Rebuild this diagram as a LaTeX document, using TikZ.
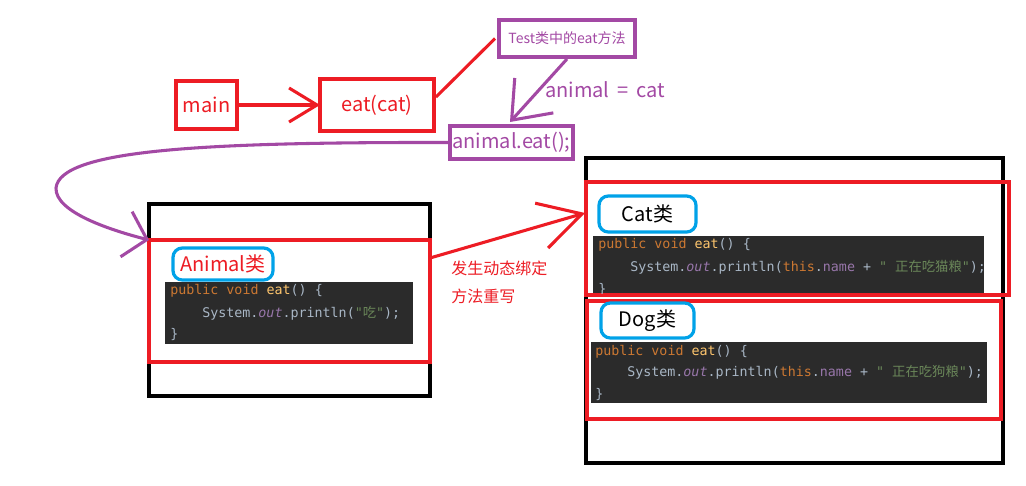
\documentclass[tikz,border=0pt]{standalone}
\usepackage{fontspec}
\setmainfont{Noto Sans CJK SC}
\setmonofont{DejaVu Sans Mono}
\newfontfamily\cjk{Noto Sans CJK SC}
\usetikzlibrary{arrows.meta,calc}
\definecolor{pred}{HTML}{ED1C24}
\definecolor{ppurple}{HTML}{A349A4}
\definecolor{pblue}{HTML}{00A2E8}
\definecolor{codebg}{HTML}{2B2B2B}
\definecolor{ckw}{HTML}{CC7832}
\definecolor{cfn}{HTML}{FFC66D}
\definecolor{cpl}{HTML}{A9B7C6}
\definecolor{cfld}{HTML}{9876AA}
\definecolor{cstr}{HTML}{6A8759}
\newcommand\ckw[1]{\textcolor{ckw}{#1}}
\newcommand\cfn[1]{\textcolor{cfn}{#1}}
\newcommand\cpl[1]{\textcolor{cpl}{#1}}
\newcommand\cfld[1]{\textcolor{cfld}{#1}}
\newcommand\cstr[1]{\textcolor{cstr}{#1}}
\begin{document}
\begin{tikzpicture}[x=0.75pt,y=-0.75pt,
  box/.style={draw, line width=2.4pt, inner sep=0pt, outer sep=0pt},
  redbox/.style={box, draw=pred},
  purplebox/.style={box, draw=ppurple},
  blackbox/.style={box, draw=black},
  bluebox/.style={box, draw=pblue, rounded corners=7pt},
  codebox/.style={fill=codebg, inner sep=0pt, outer sep=0pt},
  lbl/.style={font=\fontsize{15}{18}\selectfont},
  code/.style={anchor=base west, inner sep=0pt, font=\ttfamily\fontsize{10}{12}\selectfont, text=cpl},
  redline/.style={draw=pred, line width=2.3pt},
  purpleline/.style={draw=ppurple, line width=2.3pt}]
\useasboundingbox (0,0) rectangle (1026,486);
\fill[white] (0,0) rectangle (1026,486);

% top row
\node[redbox, minimum width=45.75pt, minimum height=36pt, lbl, text=pred] (main) at (206.5,105) {main};
\node[redbox, minimum width=85.5pt, minimum height=39pt, lbl, text=pred] (eat) at (377,105) {eat(cat)};
\node[purplebox, minimum width=102pt, minimum height=27.75pt, text=ppurple, font=\fontsize{10.5}{12}\selectfont] (test) at (567,38.5) {Test类中的eat方法};
\node[purplebox, minimum width=92.25pt, minimum height=24.75pt, lbl, text=ppurple] (aeat) at (511.5,142.5) {animal.eat();};
\node[lbl, text=ppurple, inner sep=0pt] (assign) at (605,90) {animal\ \,=\ \,cat};

% Animal class
\node[blackbox, minimum width=210.75pt, minimum height=144pt] (animalouter) at (289.5,300) {};
\node[redbox, minimum width=210.75pt, minimum height=91.5pt] (animalred) at (289.5,301) {};
\node[bluebox, minimum width=75pt, minimum height=24pt, lbl, text=pred] (animallabel) at (223,264) {Animal类};
\node[codebox, minimum width=186pt, minimum height=46.5pt] (animalcode) at (289,313) {};
\node[code] (a1) at (170,294) {\ckw{public\ void\ }\cfn{eat}\cpl{()\ \{}};
\node[code] (a2) at (202,317) {\cpl{System.}\cfld{\itshape out}\cpl{.println(}\cstr{"{\cjk 吃}"}\cpl{);}};
\node[code] (a3) at (170,338) {\cpl{\}}};

% right side
\node[blackbox, minimum width=312.75pt, minimum height=228.75pt] (rightouter) at (794.5,310.5) {};
\node[redbox, minimum width=317.25pt, minimum height=84.75pt] (catred) at (797.5,238.5) {};
\node[bluebox, minimum width=72.75pt, minimum height=27pt, lbl, text=black] (catlabel) at (647.5,214) {Cat类};
\node[codebox, minimum width=293.25pt, minimum height=42.75pt] (catcode) at (788.5,264.5) {};
\begin{scope}
\clip (catcode.south west) rectangle (catcode.north east);
\node[code] (c1) at (598,248) {\ckw{public\ void\ }\cfn{eat}\cpl{()\ \{}};
\node[code] (c2) at (630,271) {\cpl{System.}\cfld{\itshape out}\cpl{.println(}\ckw{this}\cpl{.}\cfld{name}\cpl{\ +\ }\cstr{"\ {\cjk 正在吃猫粮}"}\cpl{);}};
\node[code] (c3) at (598,293) {\cpl{\}}};
\end{scope}

\node[redbox, minimum width=310.5pt, minimum height=88.5pt] (dogred) at (794,360) {};
\node[bluebox, minimum width=69.75pt, minimum height=26.25pt, lbl, text=black] (doglabel) at (647.5,320.5) {Dog类};
\node[codebox, minimum width=297pt, minimum height=45.75pt] (dogcode) at (789,372.5) {};
\node[code] (d1) at (595,355) {\ckw{public\ void\ }\cfn{eat}\cpl{()\ \{}};
\node[code] (d2) at (627,376) {\cpl{System.}\cfld{\itshape out}\cpl{.println(}\ckw{this}\cpl{.}\cfld{name}\cpl{\ +\ }\cstr{"\ {\cjk 正在吃狗粮}"}\cpl{);}};
\node[code] (d3) at (595,398) {\cpl{\}}};

\node[anchor=west, text=pred, font=\fontsize{12}{21}\selectfont, align=left, inner sep=0pt] (bind) at (451,282) {发生动态绑定\\方法重写};

% connectors
\draw[redline, -{Straight Barb[length=21pt,width=25.5pt]}] (main.east) -- (eat.west);
\draw[redline] ($(eat.east)+(2,-8)$) -- ($(test.west)+(-4,0)$);
\draw[purpleline, -{Straight Barb[length=25pt,width=39pt]}] ($(test.south)+(0,2)$) -- ($(aeat.north)+(-1.5,-4)$);
\coordinate (loop) at (56,188);
\draw[purpleline, -{Straight Barb[length=16pt,width=35pt]}] (aeat.west) .. controls (200,142) and (60,150) .. (loop) .. controls (55,212) and (110,230) .. (animalred.north west);
\draw[redline, -{Straight Barb[length=31.5pt,width=35pt]}] ($(animalred.east)+(0,-43)$) -- ($(catred.west)+(-1,-25.5)$);
\end{tikzpicture}
\end{document}
